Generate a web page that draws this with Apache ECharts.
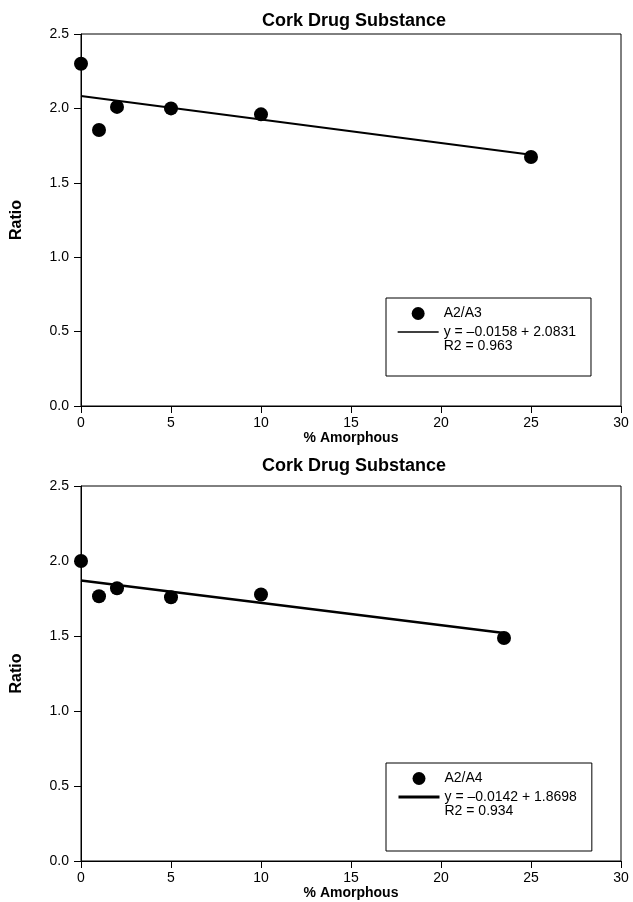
<!DOCTYPE html>
<html>
<head>
<meta charset="utf-8">
<script src="https://cdn.jsdelivr.net/npm/echarts@6/dist/echarts.min.js"></script>
<style>
  html, body { margin: 0; padding: 0; background: #fff; }
  #chart { width: 633px; height: 902px; }
</style>
</head>
<body>
<div id="chart"></div>
<script>
// % amorphous on the x axis
const pctTop = [0, 1, 2, 5, 10, 25]
const pctBottom = [0, 1, 2, 5, 10, 23.5]
// ratios
const ratioA2A3 = [2.30, 1.855, 2.01, 2.00, 1.96, 1.673]
const ratioA2A4 = [2.00, 1.765, 1.818, 1.758, 1.777, 1.487]
// fitted line end points, as drawn
const fitXTop = [0, 25]
const fitA2A3 = [2.083, 1.688]
const fitXBottom = [0, 23.5]
const fitA2A4 = [1.870, 1.52]
// texts
const titleText = 'Cork Drug Substance'
const namesTop = ['A2/A3', 'y = \u20130.0158 + 2.0831', 'R2 = 0.963']
const namesBottom = ['A2/A4', 'y = \u20130.0142 + 1.8698', 'R2 = 0.934']

const font = '"Liberation Sans", Arial, Helvetica, sans-serif'

const pairs = (xs, ys) => xs.map((x, i) => [x, ys[i]])

function xAxisFor (gridIndex) {
    return {
        gridIndex: gridIndex,
        type: 'value',
        min: 0,
        max: 30,
        interval: 5,
        name: '% Amorphous',
        nameLocation: 'middle',
        nameGap: 16,
        nameTextStyle: { color: '#000', fontFamily: font, fontSize: 14, fontWeight: 'bold' },
        axisLine: { lineStyle: { color: '#000', width: 1 } },
        axisTick: { length: 7, lineStyle: { color: '#000' } },
        axisLabel: { color: '#000', fontFamily: font, fontSize: 14, margin: 10 },
        splitLine: { show: false }
    }
}

function yAxisFor (gridIndex) {
    return {
        gridIndex: gridIndex,
        type: 'value',
        min: 0,
        max: 2.5,
        interval: 0.5,
        name: 'Ratio',
        nameLocation: 'middle',
        nameGap: 56,
        nameTextStyle: { color: '#000', fontFamily: font, fontSize: 16, fontWeight: 'bold' },
        axisLine: { lineStyle: { color: '#000', width: 1 } },
        axisTick: { length: 7, lineStyle: { color: '#000' } },
        axisLabel: {
            color: '#000', fontFamily: font, fontSize: 14, margin: 12,
            formatter: v => v.toFixed(1)
        },
        splitLine: { show: false }
    }
}

function legendFor (top, names, bottomPad, lineW) {
    return {
        orient: 'vertical',
        left: 386,
        top: top,
        itemWidth: 41,
        itemHeight: 13,
        itemGap: 0,
        padding: [4, 15, bottomPad, 11],
        borderColor: '#000',
        borderWidth: 1,
        selectedMode: false,
        textStyle: { color: '#000', fontFamily: font, fontSize: 14 },
        data: [
            { name: names[0], icon: 'circle', itemStyle: { color: '#000', opacity: 1 }, textStyle: { lineHeight: 23 } },
            { name: names[1], textStyle: { lineHeight: 13 },
              lineStyle: { width: lineW, color: '#000' },
              itemStyle: { color: 'rgba(0,0,0,0)', borderWidth: 0, opacity: 0 } },
            { name: names[2], icon: 'none', textStyle: { lineHeight: 13 } }
        ]
    }
}

function panelSeries (idx, names, xs, ratios, fitX, fit, fitW) {
    return [
        {
            type: 'scatter',
            name: names[0],
            xAxisIndex: idx,
            yAxisIndex: idx,
            data: pairs(xs, ratios),
            symbolSize: 14,
            itemStyle: { color: '#000', opacity: 1 }
        },
        {
            type: 'line',
            name: names[1],
            xAxisIndex: idx,
            yAxisIndex: idx,
            data: pairs(fitX, fit),
            symbol: 'none',
            lineStyle: { color: '#000', width: fitW },
            itemStyle: { color: '#000' }
        },
        {
            // empty series, only there so the R2 text sits in the legend
            type: 'line',
            name: names[2],
            xAxisIndex: idx,
            yAxisIndex: idx,
            data: []
        }
    ]
}

const chart = echarts.init(document.getElementById('chart'), null, { renderer: 'canvas' })

const option = {
    backgroundColor: '#fff',
    animation: false,
    title: [
        { text: titleText, left: 349, top: 7, textAlign: 'center',
          textStyle: { color: '#000', fontFamily: font, fontSize: 18, fontWeight: 'bold' } },
        { text: titleText, left: 349, top: 452, textAlign: 'center',
          textStyle: { color: '#000', fontFamily: font, fontSize: 18, fontWeight: 'bold' } }
    ],
    grid: [
        { left: 81, top: 34, width: 540, height: 372, show: true, borderColor: '#000', borderWidth: 1, backgroundColor: 'transparent' },
        { left: 81, top: 486, width: 540, height: 375, show: true, borderColor: '#000', borderWidth: 1, backgroundColor: 'transparent' }
    ],
    xAxis: [xAxisFor(0), xAxisFor(1)],
    yAxis: [yAxisFor(0), yAxisFor(1)],
    legend: [
        legendFor(298, namesTop, 23, 1.3),
        legendFor(763, namesBottom, 33, 3)
    ],
    series: [].concat(
        panelSeries(0, namesTop, pctTop, ratioA2A3, fitXTop, fitA2A3, 2),
        panelSeries(1, namesBottom, pctBottom, ratioA2A4, fitXBottom, fitA2A4, 2.5)
    )
}

chart.setOption(option)
</script>
</body>
</html>
